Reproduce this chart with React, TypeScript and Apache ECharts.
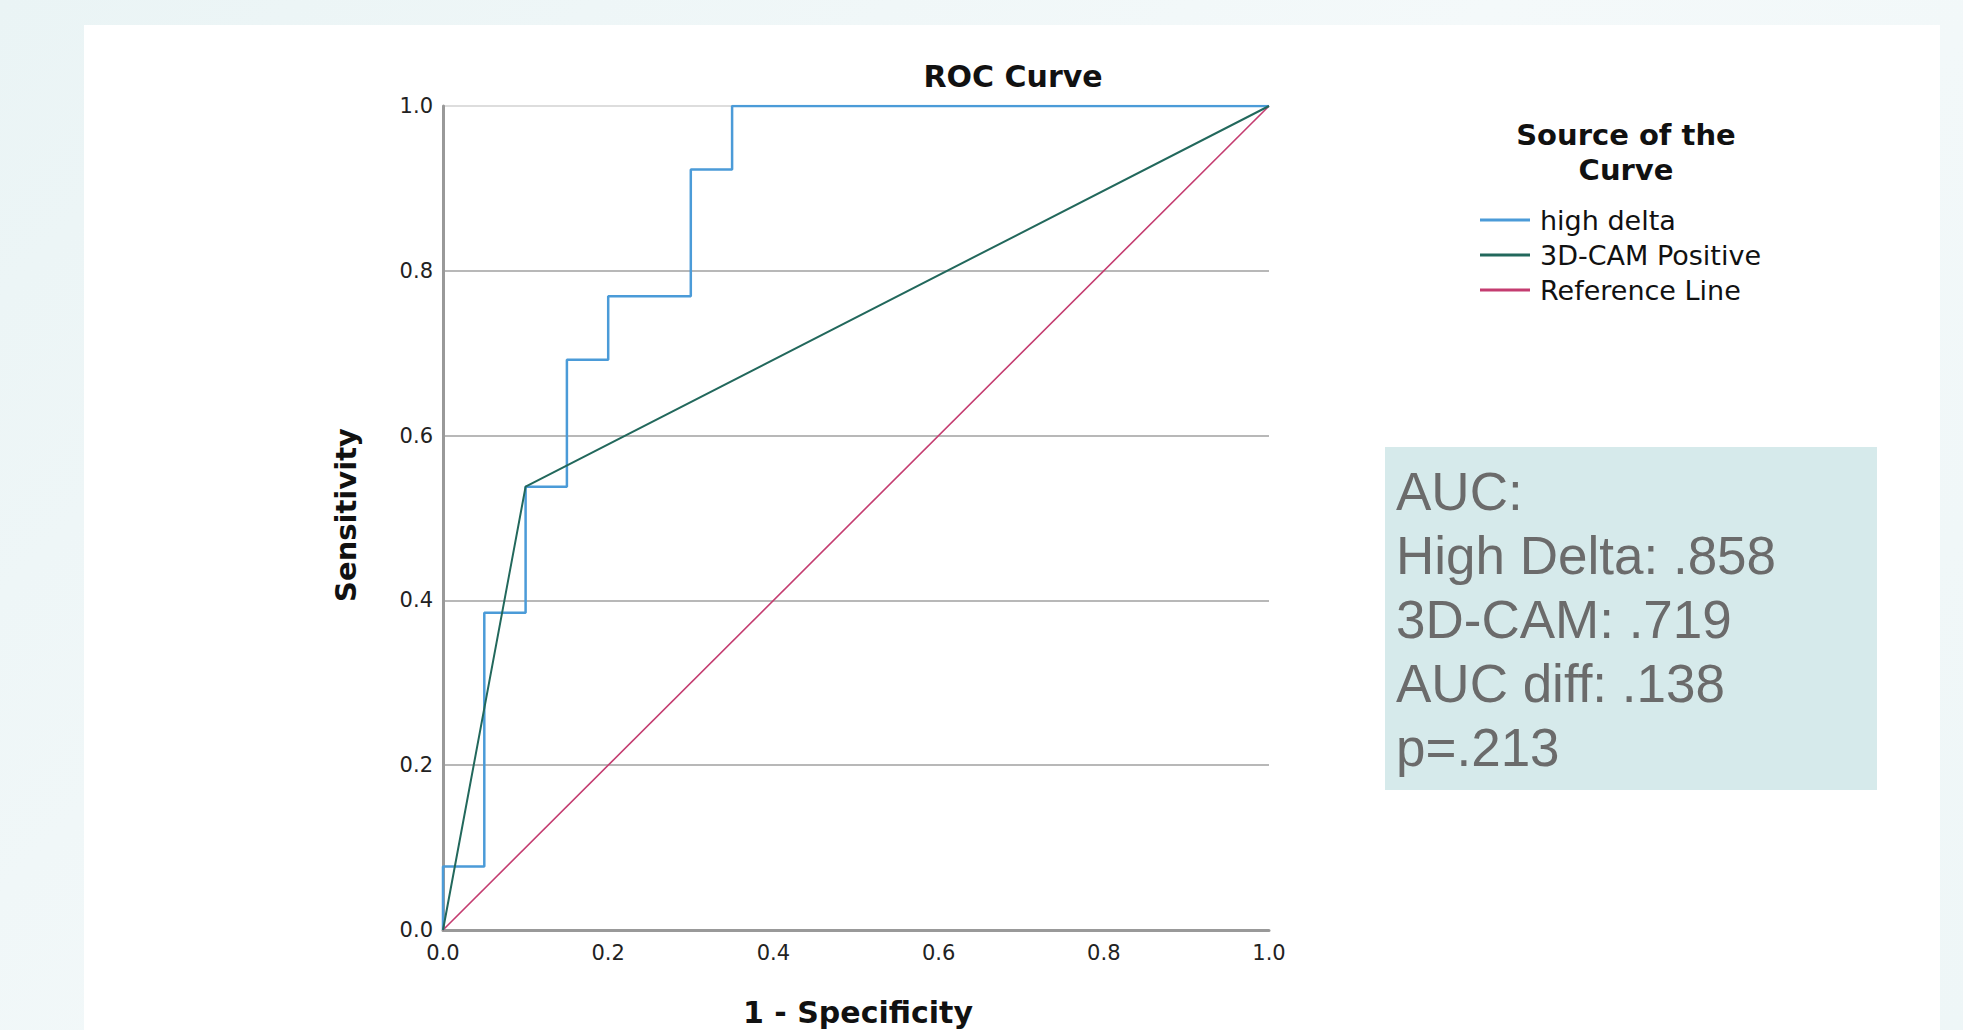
import React, { useEffect, useRef } from "react";
import * as echarts from "echarts";

const highDeltaX = [0, 0, 0.05, 0.05, 0.1, 0.1, 0.15, 0.15, 0.2, 0.2, 0.3, 0.3, 0.35, 0.35, 1.0];
const highDeltaY = [0, 0.077, 0.077, 0.385, 0.385, 0.538, 0.538, 0.692, 0.692, 0.769, 0.769, 0.923, 0.923, 1.0, 1.0];
const camX = [0, 0.1, 1.0];
const camY = [0, 0.538, 1.0];
const refX = [0, 1];
const refY = [0, 1];
const seriesNames = ["high delta", "3D-CAM Positive", "Reference Line"];
const seriesColors = ["#4b9bd8", "#22685c", "#c43c70"];
const aucLines = ["AUC:", "High Delta: .858", "3D-CAM: .719", "AUC diff: .138", "p=.213"];

const FONT = "'DejaVu Sans'";

export default function App() {
  const ref = useRef<HTMLDivElement>(null);
  useEffect(() => {
    if (!ref.current) return;
    const chart = echarts.init(ref.current, null, { renderer: "svg" });
    const zip = (xs: number[], ys: number[]) => xs.map((x, i) => [x, ys[i]]);
    chart.setOption({
      animation: false,
      backgroundColor: "transparent",
      textStyle: { fontFamily: FONT },
      graphic: [
        { type: "rect", z: -10, shape: { x: 84, y: 25, width: 1856, height: 1010 }, style: { fill: "#ffffff" }, silent: true },
        { type: "text", x: 1013, y: 76, style: { text: "ROC Curve", font: `bold 30px ${FONT}`, fill: "#111", align: "center", verticalAlign: "middle" } },
        { type: "text", x: 346, y: 515, rotation: Math.PI / 2, style: { text: "Sensitivity", font: `bold 29px ${FONT}`, fill: "#111", align: "center", verticalAlign: "middle" } },
        { type: "text", x: 858, y: 1012, style: { text: "1 - Specificity", font: `bold 30px ${FONT}`, fill: "#111", align: "center", verticalAlign: "middle" } },
        { type: "text", x: 1626, y: 135, style: { text: "Source of the", font: `bold 29px ${FONT}`, fill: "#111", align: "center", verticalAlign: "middle" } },
        { type: "text", x: 1626, y: 170, style: { text: "Curve", font: `bold 29px ${FONT}`, fill: "#111", align: "center", verticalAlign: "middle" } },
        { type: "rect", shape: { x: 1385, y: 447, width: 492, height: 343 }, style: { fill: "#d6eaeb" } },
        { type: "text", x: 1396, y: 459, style: { text: aucLines.join("\n"), font: `53px 'Liberation Sans'`, lineHeight: 64, fill: "#6b6b6b", align: "left", verticalAlign: "top" } },
      ],
      legend: {
        orient: "vertical",
        left: 1480,
        top: 205,
        padding: 0,
        itemWidth: 50,
        itemHeight: 3,
        itemGap: 5,
        icon: "rect",
        data: seriesNames,
        textStyle: { fontFamily: FONT, fontSize: 27, color: "#111", lineHeight: 30, padding: [0, 0, 0, 5] },
      },
      grid: { left: 443, top: 106, width: 826, height: 824, containLabel: false },
      xAxis: {
        type: "value",
        min: 0,
        max: 1,
        interval: 0.2,
        axisLine: { show: true, lineStyle: { color: "#999999", width: 3 } },
        axisTick: { show: false },
        splitLine: { show: false },
        axisLabel: { color: "#222", fontSize: 21, margin: 12, formatter: (v: number) => v.toFixed(1) },
      },
      yAxis: {
        type: "value",
        min: 0,
        max: 1,
        interval: 0.2,
        axisLine: { show: true, lineStyle: { color: "#999999", width: 3 } },
        axisTick: { show: false },
        splitLine: { show: true, lineStyle: { color: ["#b8b8b8", "#b8b8b8", "#b8b8b8", "#b8b8b8", "#b8b8b8", "#dddddd"], width: 1.8 } },
        axisLabel: { color: "#222", fontSize: 21, margin: 10, formatter: (v: number) => v.toFixed(1) },
      },
      series: [
        { name: seriesNames[2], type: "line", data: zip(refX, refY), symbol: "none", lineStyle: { color: seriesColors[2], width: 1.6 }, itemStyle: { color: seriesColors[2] }, z: 2 },
        { name: seriesNames[1], type: "line", data: zip(camX, camY), symbol: "none", lineStyle: { color: seriesColors[1], width: 2 }, itemStyle: { color: seriesColors[1] }, z: 4 },
        { name: seriesNames[0], type: "line", data: zip(highDeltaX, highDeltaY), symbol: "none", lineStyle: { color: seriesColors[0], width: 2.5 }, itemStyle: { color: seriesColors[0] }, z: 3 },
      ],
    });
    return () => chart.dispose();
  }, []);
  return (
    <div
      ref={ref}
      style={{ position: "absolute", left: 0, top: 0, width: 1963, height: 1030, background: "linear-gradient(135deg, #eaf4f5 0%, #f4f9fa 50%, #eef6f7 100%)" }}
    />
  );
}
